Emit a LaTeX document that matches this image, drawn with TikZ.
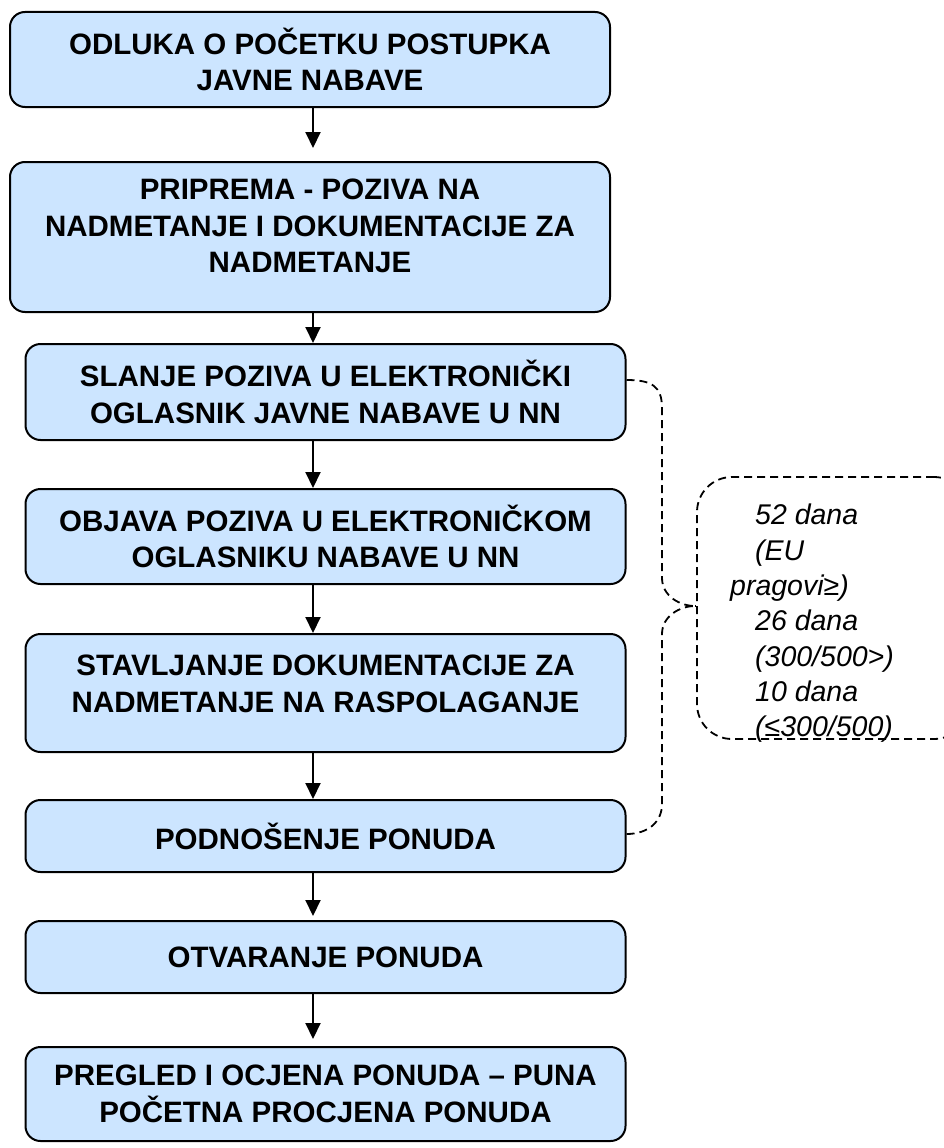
\documentclass[tikz,border=0pt]{standalone}
\usepackage{fontspec}
\setmainfont{Liberation Sans}
\usepackage{tikz}
\usetikzlibrary{arrows.meta}

\definecolor{boxblue}{RGB}{204,229,255}
\newcommand{\boxfont}{\fontsize{29.5}{36.5}\selectfont\bfseries}
\newcommand{\notefont}{\fontsize{28.5}{35.3}\selectfont\itshape}

\tikzset{
	stepbox/.style={draw, line width=2pt, fill=boxblue, rounded corners=15pt,
		minimum width=600pt, inner sep=0pt, align=center, font=\boxfont},
	flowarrow/.style={line width=2pt, -{Triangle[width=15pt,length=16pt]}},
	bracedash/.style={line width=1.8pt, dash pattern=on 8pt off 5pt},
	notebox/.style={draw, bracedash, rounded corners=35pt, minimum width=272pt, minimum height=262pt}
}

\begin{document}
\begin{tikzpicture}[x=1pt,y=1pt,yscale=-1]
	\useasboundingbox (0,0) rectangle (944,1148);
	
	% steps
	\node[stepbox, minimum height=95pt]  (b1) at (310,59.5) {ODLUKA O POČETKU POSTUPKA\\JAVNE NABAVE};
	\node[stepbox, minimum height=150pt] (b2) at (310,237) {PRIPREMA - POZIVA NA\\NADMETANJE I DOKUMENTACIJE ZA\\NADMETANJE\\[-14pt]};
	\node[stepbox, minimum height=96pt]  (b3) at (325.5,392) {SLANJE POZIVA U ELEKTRONIČKI\\OGLASNIK JAVNE NABAVE U NN};
	\node[stepbox, minimum height=95pt]  (b4) at (325.5,536.5) {OBJAVA POZIVA U ELEKTRONIČKOM\\OGLASNIKU NABAVE U NN};
	\node[stepbox, minimum height=118pt] (b5) at (325.5,693) {STAVLJANJE DOKUMENTACIJE ZA\\NADMETANJE NA RASPOLAGANJE\\[-18pt]};
	\node[stepbox, minimum height=72pt]  (b6) at (325.5,836) {PODNOŠENJE PONUDA};
	\node[stepbox, minimum height=72pt]  (b7) at (325.5,957) {OTVARANJE PONUDA};
	\node[stepbox, minimum height=94pt]  (b8) at (325.5,1094) {PREGLED I OCJENA PONUDA – PUNA\\POČETNA PROCJENA PONUDA};
	
	% arrows
	\coordinate (ax) at (313,0);
	\draw[flowarrow, shorten >=13pt] (b1.south -| ax) -- (b2.north -| ax);
	\draw[flowarrow] (b2.south -| ax) -- (b3.north -| ax);
	\draw[flowarrow] (b3.south -| ax) -- (b4.north -| ax);
	\draw[flowarrow] (b4.south -| ax) -- (b5.north -| ax);
	\draw[flowarrow] (b5.south -| ax) -- (b6.north -| ax);
	\draw[flowarrow, shorten >=4pt] (b6.south -| ax) -- (b7.north -| ax);
	\draw[flowarrow, shorten >=7pt] (b7.south -| ax) -- (b8.north -| ax);
	
	% deadlines
	\node[notebox] (note) at (833,608) {};
	\node[anchor=north west, inner sep=0pt, align=left, font=\notefont] (notetext) at (730,504)
		{\hspace*{25pt}52 dana\\\hspace*{25pt}(EU\\pragovi≥)\\\hspace*{25pt}26 dana\\\hspace*{25pt}(300/500>)\\\hspace*{25pt}10 dana\\\hspace*{25pt}(≤300/500)};
	
	\coordinate (tip) at (695,606);
	\draw[bracedash] ([yshift=-12pt]b3.east) .. controls +(25,0) and +(0,-22) .. (662,408) -- (662,578)
		.. controls (662,596) and (680,606) .. (tip)
		.. controls (680,606) and (662,616) .. (662,634) -- (662,804)
		.. controls (662,822) and (648,834) .. ([yshift=-2pt]b6.east);
	\draw[line width=1.8pt] (tip) -- (tip -| note.west);
	
\end{tikzpicture}
\end{document}
